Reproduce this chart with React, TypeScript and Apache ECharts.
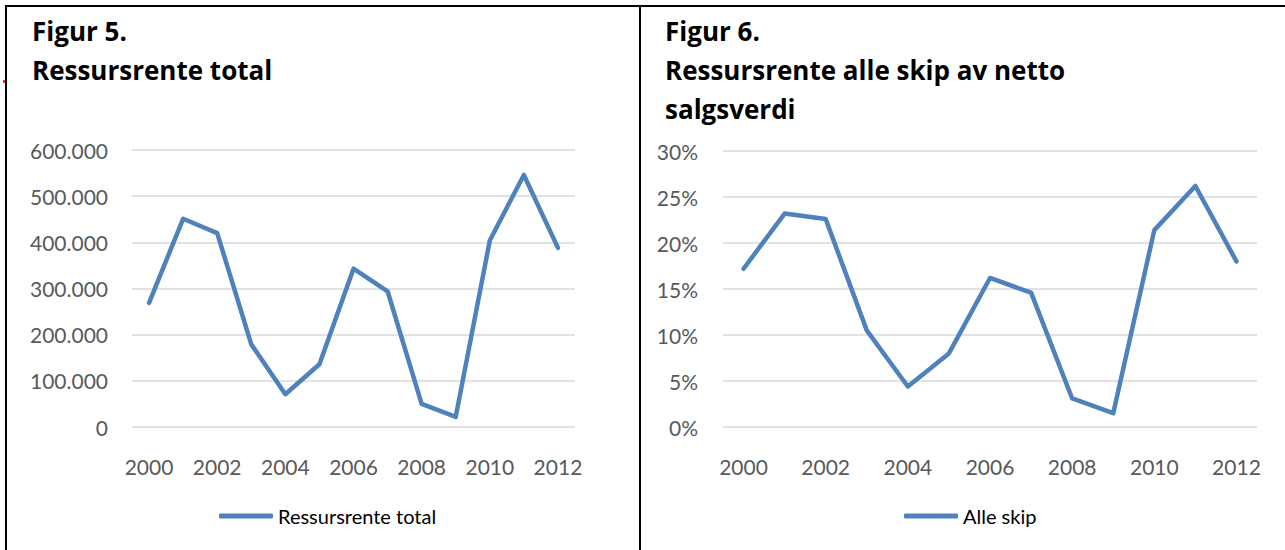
import React, { useEffect, useRef } from "react";
import * as echarts from "echarts";

const years = ["2000","2001","2002","2003","2004","2005","2006","2007","2008","2009","2010","2011","2012"];
const ressursrenteTotal = [269000, 451000, 420000, 179000, 71000, 136000, 343000, 294000, 50000, 22000, 404000, 546000, 388000];
const alleSkip = [17.2, 23.2, 22.6, 10.5, 4.4, 8.0, 16.2, 14.6, 3.1, 1.5, 21.4, 26.2, 18.0];
const leftTitle = ["Figur 5.", "Ressursrente total"];
const rightTitle = ["Figur 6.", "Ressursrente alle skip av netto", "salgsverdi"];
const leftSeriesName = "Ressursrente total";
const rightSeriesName = "Alle skip";

const FONT = "Lato, 'Open Sans', sans-serif";
const TITLE_FONT = "'Open Sans', Lato, sans-serif";
const LINE = "#4F81BD";
const GRID = "#D9D9D9";
const LABEL = "#595959";

export default function App() {
  const ref = useRef<HTMLDivElement>(null);
  useEffect(() => {
    if (!ref.current) return;
    const chart = echarts.init(ref.current, undefined, { renderer: "svg" });
    const titleLines = (lines: string[], x: number) =>
      lines.map((t, i) => ({
        type: "text",
        left: x,
        top: 18 + i * 39,
        style: { text: t, font: `bold 26px ${TITLE_FONT}`, fill: "#000" },
      }));
    const axisLabel = { color: LABEL, fontSize: 21, fontFamily: FONT };
    chart.setOption({
      animation: false,
      backgroundColor: "#fff",
      textStyle: { fontFamily: FONT },
      grid: [
        { left: 132, right: 710, top: 150, bottom: 123 },
        { left: 723, right: 28, top: 151, bottom: 123 },
      ],
      xAxis: [0, 1].map((i) => ({
        type: "category",
        gridIndex: i,
        data: years,
        boundaryGap: true,
        axisLine: { show: false },
        axisTick: { show: false },
        axisLabel: { ...axisLabel, interval: 1, margin: 29 },
      })),
      yAxis: [
        {
          type: "value",
          gridIndex: 0,
          min: 0,
          max: 600000,
          interval: 100000,
          axisLine: { show: false },
          axisTick: { show: false },
          splitLine: { lineStyle: { color: GRID, width: 1.5 } },
          axisLabel: {
            ...axisLabel,
            margin: 24,
            formatter: (v: number) => (v === 0 ? "0" : (v / 1000).toFixed(0) + ".000"),
          },
        },
        {
          type: "value",
          gridIndex: 1,
          min: 0,
          max: 30,
          interval: 5,
          axisLine: { show: false },
          axisTick: { show: false },
          splitLine: { lineStyle: { color: GRID, width: 1.5 } },
          axisLabel: { ...axisLabel, margin: 25, formatter: (v: number) => v + "%" },
        },
      ],
      legend: [
        {
          data: [leftSeriesName],
          left: 214,
          top: 501,
          icon: "roundRect",
          itemWidth: 54,
          itemHeight: 5,
          textStyle: { color: "#000", fontSize: 20, fontFamily: FONT },
        },
        {
          data: [rightSeriesName],
          left: 899,
          top: 501,
          icon: "roundRect",
          itemWidth: 54,
          itemHeight: 5,
          textStyle: { color: "#000", fontSize: 20, fontFamily: FONT },
        },
      ],
      series: [
        {
          name: leftSeriesName,
          type: "line",
          xAxisIndex: 0,
          yAxisIndex: 0,
          data: ressursrenteTotal,
          symbol: "none",
          lineStyle: { color: LINE, width: 4.5, cap: "round", join: "round" },
          itemStyle: { color: LINE },
        },
        {
          name: rightSeriesName,
          type: "line",
          xAxisIndex: 1,
          yAxisIndex: 1,
          data: alleSkip,
          symbol: "none",
          lineStyle: { color: LINE, width: 4.5, cap: "round", join: "round" },
          itemStyle: { color: LINE },
        },
      ],
      graphic: [
        { type: "rect", shape: { x: 5, y: 5, width: 1280, height: 2 }, style: { fill: "#000" } },
        { type: "rect", shape: { x: 5, y: 5, width: 2, height: 545 }, style: { fill: "#000" } },
        { type: "rect", shape: { x: 639, y: 5, width: 2, height: 545 }, style: { fill: "#000" } },
        { type: "rect", shape: { x: 3, y: 80, width: 2, height: 3 }, style: { fill: "#E03030" } },
        ...titleLines(leftTitle, 32),
        ...titleLines(rightTitle, 665),
      ],
    });
    return () => chart.dispose();
  }, []);
  return (
    <div
      ref={ref}
      style={{ position: "fixed", left: 0, top: 0, width: 1285, height: 550, background: "#fff" }}
    />
  );
}
